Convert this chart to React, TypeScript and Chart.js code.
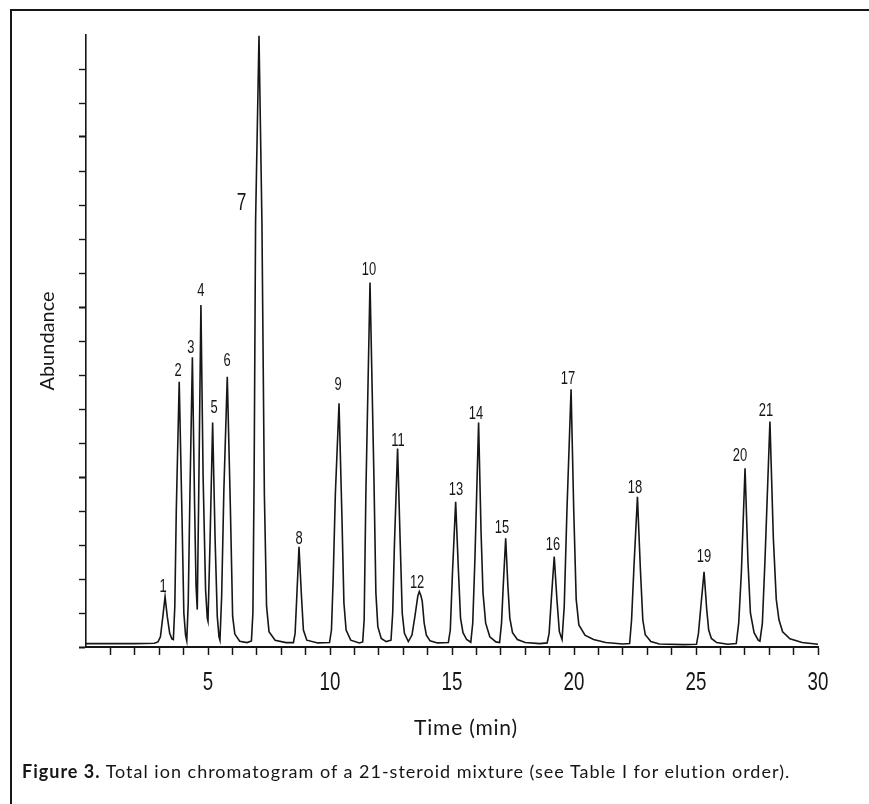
import React, { useEffect, useRef } from 'react';
import { Chart, registerables } from 'chart.js';

Chart.register(...registerables);

// ---- Data (time in min, abundance in axis-tick units) ----
const traceTime = [
  0, 1.0, 2.0, 2.8,
  2.95, 3.05, 3.15, 3.24, 3.33, 3.43, 3.52, 3.58,
  3.64, 3.70, 3.82, 3.93, 4.01, 4.08, 4.13,
  4.19, 4.26, 4.36, 4.45, 4.51, 4.56,
  4.62, 4.71, 4.80, 4.90, 4.97, 5.00,
  5.08, 5.19, 5.29, 5.38, 5.45, 5.49,
  5.56, 5.65, 5.79, 5.92, 6.01, 6.10, 6.30, 6.60,
  6.78, 6.84, 6.89, 6.95, 7.09, 7.21, 7.31, 7.40, 7.50, 7.75, 8.20,
  8.50, 8.57, 8.64, 8.73, 8.83, 8.91, 9.05, 9.50,
  9.98, 10.06, 10.13, 10.22, 10.37, 10.49, 10.57, 10.66, 10.85, 11.20,
  11.34, 11.40, 11.47, 11.64, 11.80, 11.88, 11.96, 12.10, 12.30,
  12.50, 12.57, 12.64, 12.77, 12.88, 12.96, 13.05, 13.21,
  13.36, 13.48, 13.60, 13.66, 13.72, 13.78, 13.86, 13.95, 14.10, 14.40,
  14.85, 14.93, 15.02, 15.15, 15.26, 15.35, 15.45, 15.60, 15.77,
  15.85, 15.94, 16.09, 16.19, 16.27, 16.38, 16.55, 16.80, 16.95,
  17.03, 17.10, 17.20, 17.29, 17.37, 17.48, 17.68, 18.00, 18.60,
  18.90, 18.98, 19.07, 19.19, 19.30, 19.40, 19.51,
  19.60, 19.71, 19.88, 19.99, 20.09, 20.20, 20.45, 20.80, 21.30, 22.00,
  22.28, 22.36, 22.46, 22.60, 22.72, 22.82, 22.92, 23.15, 23.50,
  24.50, 25.02, 25.10, 25.20, 25.33, 25.44, 25.52, 25.63, 25.85, 26.30,
  26.65, 26.75, 26.86, 27.01, 27.13, 27.23, 27.38, 27.55, 27.62,
  27.72, 27.83, 28.03, 28.17, 28.29, 28.40, 28.55, 28.85, 29.35, 30.00,
];

const traceAbundance = [
  0.10, 0.10, 0.10, 0.11,
  0.15, 0.30, 0.90, 1.48, 0.90, 0.40, 0.24, 0.22,
  1.20, 4.00, 7.80, 4.00, 1.00, 0.35, 0.18,
  1.30, 4.50, 8.52, 4.20, 1.80, 1.10,
  4.50, 10.06, 5.00, 1.70, 0.85, 0.76,
  3.00, 6.60, 3.20, 0.90, 0.30, 0.20,
  1.50, 4.60, 7.95, 4.00, 0.90, 0.38, 0.17, 0.13,
  0.18, 1.00, 5.00, 12.50, 17.98, 12.50, 4.50, 1.20, 0.45, 0.20, 0.13,
  0.13, 0.40, 1.50, 2.95, 1.50, 0.50, 0.20, 0.12,
  0.13, 0.50, 2.00, 4.50, 7.17, 3.80, 1.30, 0.50, 0.20, 0.12,
  0.15, 0.80, 4.50, 10.72, 5.00, 1.60, 0.60, 0.25, 0.16,
  0.20, 1.00, 3.00, 5.84, 3.00, 1.00, 0.40, 0.16,
  0.35, 0.90, 1.50, 1.63, 1.52, 1.35, 0.70, 0.35, 0.18, 0.12,
  0.13, 0.50, 2.20, 4.27, 2.30, 0.85, 0.42, 0.22, 0.14,
  0.70, 2.60, 6.60, 3.40, 1.60, 0.70, 0.30, 0.15, 0.13,
  0.70, 1.80, 3.20, 1.80, 0.85, 0.42, 0.22, 0.13, 0.10,
  0.12, 0.40, 1.40, 2.66, 1.40, 0.45, 0.22,
  1.20, 4.00, 7.58, 4.00, 1.40, 0.65, 0.35, 0.22, 0.13, 0.09,
  0.10, 0.80, 2.40, 4.42, 2.30, 0.80, 0.36, 0.16, 0.09,
  0.07, 0.08, 0.40, 1.20, 2.21, 1.10, 0.50, 0.25, 0.13, 0.08,
  0.10, 0.70, 2.20, 5.26, 2.50, 1.00, 0.42, 0.20, 0.17,
  0.70, 2.60, 6.63, 3.20, 1.40, 0.80, 0.45, 0.24, 0.13, 0.08,
];

const peakNumbers = [
  '1', '2', '3', '4', '5', '6', '7', '8', '9', '10', '11',
  '12', '13', '14', '15', '16', '17', '18', '19', '20', '21',
];
const labelTime = [
  3.16, 3.77, 4.30, 4.71, 5.25, 5.78, 6.38, 8.73, 10.33, 11.60, 12.79,
  13.57, 15.16, 15.98, 17.05, 19.14, 19.75, 22.50, 25.33, 26.80, 27.87,
];
const labelLevel = [
  1.76, 8.13, 8.79, 10.47, 7.03, 8.41, 13.06, 3.18, 7.71, 11.09, 6.06,
  1.88, 4.62, 6.85, 3.50, 3.00, 7.88, 4.68, 2.65, 5.62, 6.94,
];

const xMin = 0;
const xMax = 30;
const xLabelStep = 5;
const yMax = 18;

const xTitle = 'Time (min)';
const yTitle = 'Abundance';
const captionBold = 'Figure 3.';
const captionText = ' Total ion chromatogram of a 21-steroid mixture (see Table I for elution order).';

const NUMFONT = '"Liberation Sans", Arimo, sans-serif';
const HUMANIST = 'Lato, "Open Sans", "Noto Sans", sans-serif';
const INK = '#161616';
const SQUEEZE = 0.72;

function drawNarrow(ctx: CanvasRenderingContext2D, text: string, x: number, y: number) {
  ctx.save();
  ctx.translate(x, y);
  ctx.scale(SQUEEZE, 1);
  ctx.fillText(text, 0, 0);
  ctx.restore();
}

const textPlugin = {
  id: 'chromText',
  afterDatasetsDraw(chart: any) {
    const { ctx, scales } = chart;
    const x = scales.x;
    const y = scales.y;
    ctx.save();
    ctx.fillStyle = INK;
    ctx.textAlign = 'center';
    ctx.textBaseline = 'middle';
    // peak numbers
    peakNumbers.forEach((n, i) => {
      ctx.font = n === '7' ? `24px ${NUMFONT}` : `18px ${NUMFONT}`;
      drawNarrow(ctx, n, x.getPixelForValue(labelTime[i]), y.getPixelForValue(labelLevel[i]));
    });
    // x tick labels (condensed)
    ctx.font = `26px ${NUMFONT}`;
    const labelY = x.top + 36;
    x.ticks.forEach((t: any) => {
      const v = Number(t.value);
      if (v !== 0 && v % xLabelStep === 0) {
        drawNarrow(ctx, String(v), x.getPixelForValue(v), labelY);
      }
    });
    ctx.restore();
  },
};

function ChromatogramChart() {
  const canvasRef = useRef<HTMLCanvasElement | null>(null);

  useEffect(() => {
    document.body.style.margin = '0';
    const canvas = canvasRef.current;
    if (!canvas) return;
    const chart = new Chart(canvas, {
      type: 'line',
      data: {
        datasets: [
          {
            label: 'TIC',
            data: traceTime.map((t, i) => ({ x: t, y: traceAbundance[i] })),
            borderColor: INK,
            borderWidth: 1.6,
            pointRadius: 0,
            tension: 0,
            fill: false,
            clip: false as any,
          },
        ],
      },
      options: {
        animation: false,
        responsive: false,
        devicePixelRatio: 1,
        layout: { padding: { top: 35, right: 51, left: 0, bottom: 0 } },
        plugins: {
          legend: { display: false },
          tooltip: { enabled: false },
        },
        scales: {
          x: {
            type: 'linear',
            min: xMin,
            max: xMax,
            ticks: {
              stepSize: 1,
              autoSkip: false,
              maxRotation: 0,
              display: false,
            },
            grid: {
              drawOnChartArea: false,
              drawTicks: true,
              tickLength: 8,
              tickWidth: 1.5,
              tickColor: (c: any) => (c.tick && c.tick.value === 0 ? 'rgba(0,0,0,0)' : INK),
            },
            border: { display: true, color: INK, width: 2 },
            afterFit: (s: any) => {
              s.height = 157;
            },
          },
          y: {
            type: 'linear',
            min: 0,
            max: yMax,
            ticks: { stepSize: 1, display: false },
            grid: {
              drawOnChartArea: false,
              drawTicks: true,
              tickLength: 7,
              tickWidth: (c: any) => (c.tick && c.tick.value % 5 === 0 ? 2 : 1.4),
              tickColor: (c: any) => (c.tick && c.tick.value === yMax ? 'rgba(0,0,0,0)' : INK),
            },
            border: { display: true, color: INK, width: 1.6 },
            title: {
              display: true,
              text: yTitle,
              color: INK,
              font: { family: HUMANIST, size: 20 },
              padding: { top: 36, bottom: 0 },
            },
            afterFit: (s: any) => {
              s.width = 86;
            },
          },
        },
      },
      plugins: [textPlugin],
    } as any);
    return () => chart.destroy();
  }, []);

  return <canvas ref={canvasRef} width={869} height={804} style={{ position: 'absolute', left: 0, top: 0 }} />;
}

export default function App() {
  return (
    <div style={{ position: 'relative', width: 869, height: 804, background: '#fff', overflow: 'hidden' }}>
      <div
        style={{
          position: 'absolute',
          left: 10,
          top: 9,
          width: 870,
          height: 800,
          borderTop: `2px solid ${INK}`,
          borderLeft: `2px solid ${INK}`,
        }}
      />
      <ChromatogramChart />
      <div
        style={{
          position: 'absolute',
          left: 316,
          top: 715,
          width: 300,
          textAlign: 'center',
          fontFamily: HUMANIST,
          fontSize: 21,
          letterSpacing: '0.8px',
          lineHeight: '24px',
          color: INK,
        }}
      >
        {xTitle}
      </div>
      <div
        style={{
          position: 'absolute',
          left: 22,
          top: 760,
          whiteSpace: 'nowrap',
          fontFamily: HUMANIST,
          fontSize: 18,
          letterSpacing: '1px',
          lineHeight: '22px',
          color: INK,
        }}
      >
        <b>{captionBold}</b>
        {captionText}
      </div>
    </div>
  );
}
